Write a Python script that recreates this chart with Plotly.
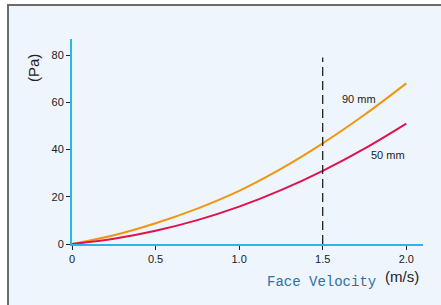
import plotly.graph_objects as go

velocity = [0, 0.25, 0.5, 0.75, 1.0, 1.25, 1.5, 1.75, 2.0]
dp_90mm = [0, 3.7, 8.8, 15.0, 22.5, 31.8, 42.6, 54.7, 68.0]
dp_50mm = [0, 2.2, 5.6, 10.1, 15.8, 22.8, 31.0, 40.4, 51.0]
x_ticks = [0, 0.5, 1.0, 1.5, 2.0]
x_tick_text = ["0", "0.5", "1.0", "1.5", "2.0"]
y_ticks = [0, 20, 40, 60, 80]
design_velocity = 1.5
design_line_top = 79

L, R, T, B = 72, 18, 39, 61
W, H = 441, 305
pw, ph = W - L - R, H - T - B

def px(x):
    return (x - L) / pw

def py(y):
    return (H - B - y) / ph

fig = go.Figure()
fig.add_trace(go.Scatter(x=velocity, y=dp_90mm, mode="lines",
                         line=dict(color="#F0960F", width=2, shape="spline", smoothing=1),
                         hoverinfo="skip"))
fig.add_trace(go.Scatter(x=velocity, y=dp_50mm, mode="lines",
                         line=dict(color="#E0134A", width=2, shape="spline", smoothing=1),
                         hoverinfo="skip"))
fig.add_trace(go.Scatter(x=[design_velocity, design_velocity], y=[0, design_line_top],
                         mode="lines", line=dict(color="#111111", width=1.2, dash="9px,5px"),
                         hoverinfo="skip"))

fig.add_shape(type="rect", xref="paper", yref="paper",
              x0=px(8), x1=px(460), y0=py(330), y1=py(5),
              fillcolor="#EEF5FC", line=dict(color="#6B6B6B", width=2), layer="below")

fig.add_annotation(x=1.72, y=61.5, text="90 mm", showarrow=False,
                   font=dict(family="Liberation Sans, Arial", size=11, color="#222222"))
fig.add_annotation(x=1.89, y=37.5, text="50 mm", showarrow=False,
                   font=dict(family="Liberation Sans, Arial", size=11, color="#222222"))
fig.add_annotation(xref="paper", yref="paper", x=px(33), y=py(68), text="(Pa)",
                   textangle=-90, showarrow=False, xanchor="center", yanchor="middle",
                   font=dict(family="Liberation Sans, Arial", size=15, color="#222222"))
fig.add_annotation(xref="paper", yref="paper", x=px(321), y=py(282), text="Face Velocity",
                   showarrow=False, xanchor="center", yanchor="middle",
                   font=dict(family="Liberation Mono, Courier New, monospace", size=14, color="#2F6FA6"))
fig.add_annotation(xref="paper", yref="paper", x=px(402), y=py(276), text="(m/s)",
                   showarrow=False, xanchor="center", yanchor="middle",
                   font=dict(family="Liberation Sans, Arial", size=15, color="#222222"))

axis_common = dict(showgrid=False, zeroline=False, showline=True, linecolor="#2BB5EE",
                   linewidth=2, ticks="outside", ticklen=4, tickwidth=1, tickcolor="#222222",
                   tickfont=dict(family="Liberation Sans, Arial", size=11, color="#222222"),
                   fixedrange=True)

fig.update_layout(
    width=W, height=H,
    margin=dict(l=L, r=R, t=T, b=B),
    paper_bgcolor="white",
    plot_bgcolor="rgba(0,0,0,0)",
    showlegend=False,
    xaxis=dict(range=[0, 2.1], tickvals=x_ticks, ticktext=x_tick_text, **axis_common),
    yaxis=dict(range=[0, 86.8], tickvals=y_ticks, **axis_common),
)

fig.write_html("out.html", config={"displayModeBar": False},
               post_script="document.body.style.margin='0';document.body.style.overflow='hidden';")
